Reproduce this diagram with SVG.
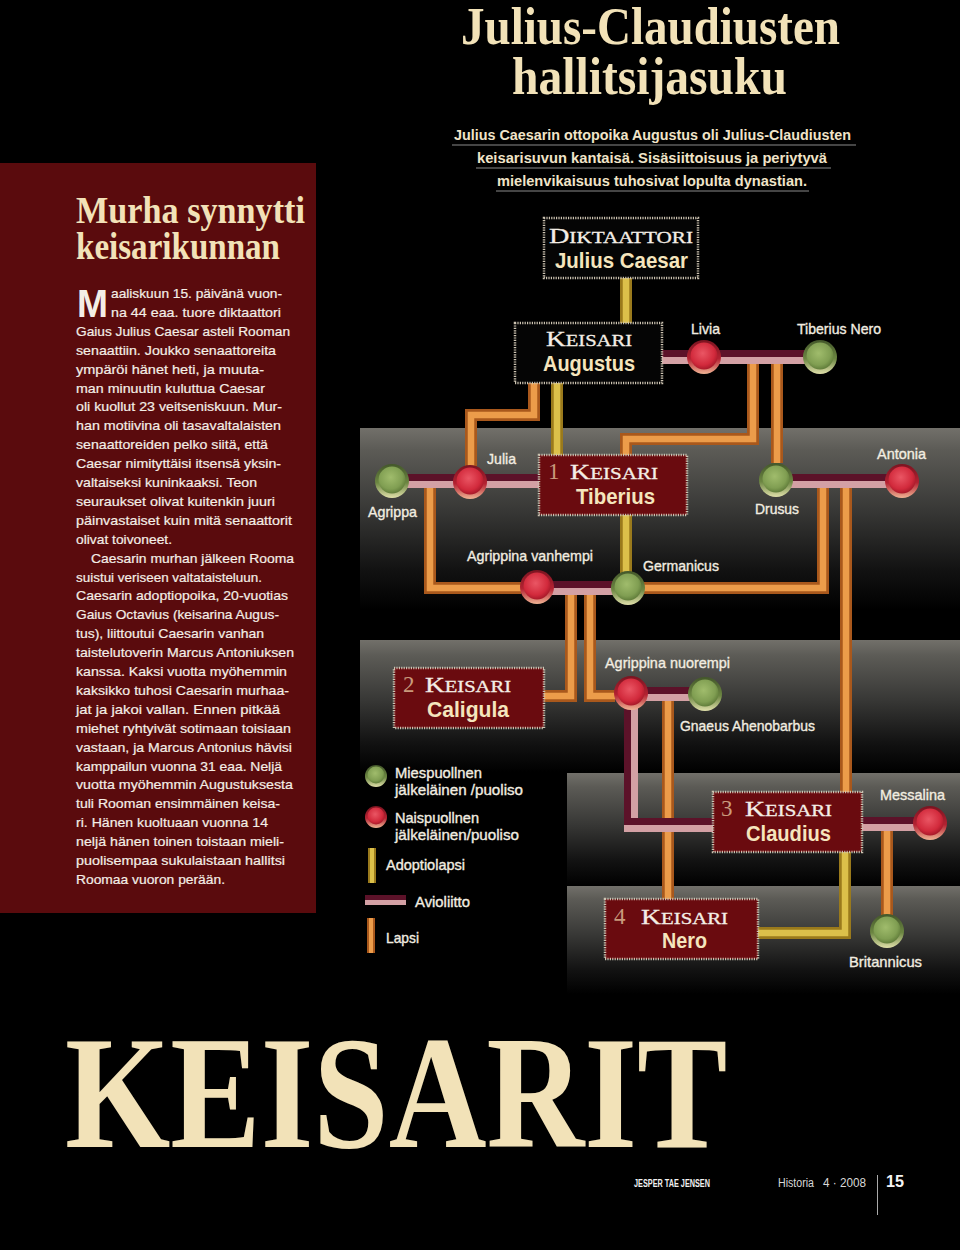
<svg xmlns="http://www.w3.org/2000/svg" width="960" height="1250" viewBox="0 0 960 1250">
<defs>
<linearGradient id="band" x1="0" y1="0" x2="0" y2="1">
<stop offset="0" stop-color="#72706a"/>
<stop offset="0.12" stop-color="#5c5b56"/>
<stop offset="0.45" stop-color="#383836"/>
<stop offset="0.78" stop-color="#121212"/>
<stop offset="1" stop-color="#000"/>
</linearGradient>
<linearGradient id="rimR" x1="0" y1="0" x2="0" y2="1">
<stop offset="0" stop-color="#7a1420"/>
<stop offset="0.55" stop-color="#b42232"/>
<stop offset="1" stop-color="#f0b494"/>
</linearGradient>
<radialGradient id="inR" cx="0.45" cy="0.4" r="0.62">
<stop offset="0" stop-color="#ea5664"/>
<stop offset="0.7" stop-color="#d22a3c"/>
<stop offset="1" stop-color="#a41828"/>
</radialGradient>
<linearGradient id="rimG" x1="0" y1="0" x2="0" y2="1">
<stop offset="0" stop-color="#43572a"/>
<stop offset="0.55" stop-color="#6c8642"/>
<stop offset="1" stop-color="#e0e0aa"/>
</linearGradient>
<radialGradient id="inG" cx="0.45" cy="0.4" r="0.62">
<stop offset="0" stop-color="#a0bc6c"/>
<stop offset="0.7" stop-color="#809e52"/>
<stop offset="1" stop-color="#5e7a38"/>
</radialGradient>
<style>
.bo{fill:none;stroke:#a9581c;stroke-width:12}
.bo2{fill:none;stroke:#ec9c4a;stroke-width:6.5}
.by{fill:none;stroke:#9a7a1c;stroke-width:12}
.by2{fill:none;stroke:#dcc04a;stroke-width:6.5}
.mp{fill:none;stroke:#d3a0a4;stroke-width:14}
.md{fill:none;stroke:#5c1229;stroke-width:7}
.lb{font-family:"Liberation Sans",Arial,sans-serif;font-size:15px;fill:#f2ede0;stroke:#f2ede0;stroke-width:0.35}
.bt{font-family:"Liberation Sans",Arial,sans-serif;font-size:13.6px;fill:#f4eee6;stroke:#f4eee6;stroke-width:0.2}
.nm{font-family:"Liberation Sans",Arial,sans-serif;font-weight:bold;font-size:22px;fill:#f5e5bd}
.kc{font-family:"Liberation Serif","Times New Roman",serif;fill:#f4eee6;stroke:#f4eee6;stroke-width:0.3}
.num{font-family:"Liberation Serif","Times New Roman",serif;font-size:23px;fill:#c99a7c}
.bx{stroke:#cdc4b2;stroke-width:2.5;stroke-dasharray:1.2 1.2}
.ttl{font-family:"Liberation Serif","Times New Roman",serif;font-weight:bold;fill:#f2e2b8}
.sub{font-family:"Liberation Sans",Arial,sans-serif;font-weight:bold;font-size:14.5px;fill:#f0e4c8}
.ul{stroke:#8a8a8a;stroke-width:1.2}
</style>
</defs>

<rect x="0" y="0" width="960" height="1250" fill="#000"/>

<!-- left article panel -->
<g id="article">
<rect x="0" y="163" width="316" height="750" fill="#5a0b0d"/>
<text class="ttl" x="76" y="223" font-size="38" textLength="229" lengthAdjust="spacingAndGlyphs">Murha synnytti</text>
<text class="ttl" x="76" y="259" font-size="38" textLength="204" lengthAdjust="spacingAndGlyphs">keisarikunnan</text>
<text x="77" y="317" font-family="Liberation Sans, Arial, sans-serif" font-weight="bold" font-size="39" fill="#f4eee6" textLength="31" lengthAdjust="spacingAndGlyphs">M</text>
<text class="bt" x="111" y="298" textLength="171" lengthAdjust="spacingAndGlyphs">aaliskuun 15. päivänä vuon-</text>
<text class="bt" x="111" y="316.9" textLength="170" lengthAdjust="spacingAndGlyphs">na 44 eaa. tuore diktaattori</text>
<text class="bt" x="76" y="335.8" textLength="214" lengthAdjust="spacingAndGlyphs">Gaius Julius Caesar asteli Rooman</text>
<text class="bt" x="76" y="354.7" textLength="200" lengthAdjust="spacingAndGlyphs">senaattiin. Joukko senaattoreita</text>
<text class="bt" x="76" y="373.6" textLength="188" lengthAdjust="spacingAndGlyphs">ympäröi hänet heti, ja muuta-</text>
<text class="bt" x="76" y="392.5" textLength="189" lengthAdjust="spacingAndGlyphs">man minuutin kuluttua Caesar</text>
<text class="bt" x="76" y="411.4" textLength="206" lengthAdjust="spacingAndGlyphs">oli kuollut 23 veitseniskuun. Mur-</text>
<text class="bt" x="76" y="430.3" textLength="205" lengthAdjust="spacingAndGlyphs">han motiivina oli tasavaltalaisten</text>
<text class="bt" x="76" y="449.2" textLength="192" lengthAdjust="spacingAndGlyphs">senaattoreiden pelko siitä, että</text>
<text class="bt" x="76" y="468.1" textLength="205" lengthAdjust="spacingAndGlyphs">Caesar nimityttäisi itsensä yksin-</text>
<text class="bt" x="76" y="487" textLength="181" lengthAdjust="spacingAndGlyphs">valtaiseksi kuninkaaksi. Teon</text>
<text class="bt" x="76" y="505.9" textLength="199" lengthAdjust="spacingAndGlyphs">seuraukset olivat kuitenkin juuri</text>
<text class="bt" x="76" y="524.8" textLength="216" lengthAdjust="spacingAndGlyphs">päinvastaiset kuin mitä senaattorit</text>
<text class="bt" x="76" y="543.7" textLength="96" lengthAdjust="spacingAndGlyphs">olivat toivoneet.</text>
<text class="bt" x="91" y="562.6" textLength="203" lengthAdjust="spacingAndGlyphs">Caesarin murhan jälkeen Rooma</text>
<text class="bt" x="76" y="581.5" textLength="186" lengthAdjust="spacingAndGlyphs">suistui veriseen valtataisteluun.</text>
<text class="bt" x="76" y="600.4" textLength="212" lengthAdjust="spacingAndGlyphs">Caesarin adoptiopoika, 20-vuotias</text>
<text class="bt" x="76" y="619.3" textLength="203" lengthAdjust="spacingAndGlyphs">Gaius Octavius (keisarina Augus-</text>
<text class="bt" x="76" y="638.2" textLength="188" lengthAdjust="spacingAndGlyphs">tus), liittoutui Caesarin vanhan</text>
<text class="bt" x="76" y="657.1" textLength="218" lengthAdjust="spacingAndGlyphs">taistelutoverin Marcus Antoniuksen</text>
<text class="bt" x="76" y="676" textLength="211" lengthAdjust="spacingAndGlyphs">kanssa. Kaksi vuotta myöhemmin</text>
<text class="bt" x="76" y="694.9" textLength="213" lengthAdjust="spacingAndGlyphs">kaksikko tuhosi Caesarin murhaa-</text>
<text class="bt" x="76" y="713.8" textLength="204" lengthAdjust="spacingAndGlyphs">jat ja jakoi vallan. Ennen pitkää</text>
<text class="bt" x="76" y="732.7" textLength="215" lengthAdjust="spacingAndGlyphs">miehet ryhtyivät sotimaan toisiaan</text>
<text class="bt" x="76" y="751.6" textLength="216" lengthAdjust="spacingAndGlyphs">vastaan, ja Marcus Antonius hävisi</text>
<text class="bt" x="76" y="770.5" textLength="206" lengthAdjust="spacingAndGlyphs">kamppailun vuonna 31 eaa. Neljä</text>
<text class="bt" x="76" y="789.4" textLength="217" lengthAdjust="spacingAndGlyphs">vuotta myöhemmin Augustuksesta</text>
<text class="bt" x="76" y="808.3" textLength="204" lengthAdjust="spacingAndGlyphs">tuli Rooman ensimmäinen keisa-</text>
<text class="bt" x="76" y="827.2" textLength="192" lengthAdjust="spacingAndGlyphs">ri. Hänen kuoltuaan vuonna 14</text>
<text class="bt" x="76" y="846.1" textLength="208" lengthAdjust="spacingAndGlyphs">neljä hänen toinen toistaan mieli-</text>
<text class="bt" x="76" y="865" textLength="209" lengthAdjust="spacingAndGlyphs">puolisempaa sukulaistaan hallitsi</text>
<text class="bt" x="76" y="883.9" textLength="149" lengthAdjust="spacingAndGlyphs">Roomaa vuoron perään.</text>
</g>

<!-- title -->
<g id="title">
<text class="ttl" x="461" y="44" font-size="52" textLength="379" lengthAdjust="spacingAndGlyphs">Julius-Claudiusten</text>
<text class="ttl" x="512" y="94" font-size="52" textLength="275" lengthAdjust="spacingAndGlyphs">hallitsijasuku</text>
<text class="sub" x="454" y="140" textLength="397" lengthAdjust="spacingAndGlyphs">Julius Caesarin ottopoika Augustus oli Julius-Claudiusten</text>
<line class="ul" x1="452" y1="145" x2="856" y2="145"/>
<text class="sub" x="477" y="163" textLength="350" lengthAdjust="spacingAndGlyphs">keisarisuvun kantaisä. Sisäsiittoisuus ja periytyvä</text>
<line class="ul" x1="476" y1="168" x2="831" y2="168"/>
<text class="sub" x="497" y="186" textLength="310" lengthAdjust="spacingAndGlyphs">mielenvikaisuus tuhosivat lopulta dynastian.</text>
<line class="ul" x1="496" y1="191" x2="809" y2="191"/>
</g>

<!-- background bands -->
<g id="bands">
<rect x="360" y="428" width="600" height="182" fill="url(#band)"/>
<rect x="360" y="640" width="600" height="132" fill="url(#band)"/>
<rect x="567" y="773" width="393" height="113" fill="url(#band)"/>
<rect x="567" y="886" width="393" height="108" fill="url(#band)"/>
</g>

<!-- connectors -->
<g id="connectors">
<!-- adoption (yellow) -->
<path class="by" d="M626 278V323"/><path class="by2" d="M626 278V323"/>
<path class="by" d="M557 383V455"/><path class="by2" d="M557 383V455"/>
<path class="by" d="M626 515V573"/><path class="by2" d="M626 515V573"/>
<path class="by" d="M845 852V933H758"/><path class="by2" d="M845 852V933H758"/>
<!-- children (orange) -->
<path class="bo" d="M534 383V415H471V466"/><path class="bo2" d="M534 383V415H471V466"/>
<path class="bo" d="M753 364V439H626V455"/><path class="bo2" d="M753 364V439H626V455"/>
<path class="bo" d="M777 364V463"/><path class="bo2" d="M777 364V463"/>
<path class="bo" d="M430 488V588H521"/><path class="bo2" d="M430 488V588H521"/>
<path class="bo" d="M823 488V588H644"/><path class="bo2" d="M823 488V588H644"/>
<path class="bo" d="M846 488V792"/><path class="bo2" d="M846 488V792"/>
<path class="bo" d="M571 595V696H544"/><path class="bo2" d="M571 595V696H544"/>
<path class="bo" d="M590 595V696H615"/><path class="bo2" d="M590 595V696H615"/>
<path class="bo" d="M668 701V899"/><path class="bo2" d="M668 701V899"/>
<path class="bo" d="M887 829V915"/><path class="bo2" d="M887 829V915"/>
<!-- marriages -->
<path class="mp" d="M662 357H820"/><path class="md" d="M662 353.5H820"/>
<path class="mp" d="M392 481H539"/><path class="md" d="M392 477.5H539"/>
<path class="mp" d="M776 481H902"/><path class="md" d="M776 477.5H902"/>
<path class="mp" d="M537 588H628"/><path class="md" d="M537 584.5H628"/>
<path class="mp" d="M632 694H705"/><path class="md" d="M632 690.5H705"/>
<path class="mp" d="M631 700V825H713"/><path class="md" d="M627.5 700V821.5H713"/>
<path class="mp" d="M862 824H930"/><path class="md" d="M862 820.5H930"/>
</g>

<!-- person nodes -->
<g id="livia"><circle cx="704" cy="357" r="17" fill="url(#rimR)"/><circle cx="704" cy="356" r="13.5" fill="url(#inR)"/><text class="lb" x="691" y="334" textLength="29" lengthAdjust="spacingAndGlyphs">Livia</text></g>
<g id="tiberius-nero"><circle cx="820" cy="357" r="17" fill="url(#rimG)"/><circle cx="820" cy="356" r="13.5" fill="url(#inG)"/><text class="lb" x="797" y="334" textLength="84" lengthAdjust="spacingAndGlyphs">Tiberius Nero</text></g>
<g id="agrippa"><circle cx="392" cy="481" r="17" fill="url(#rimG)"/><circle cx="392" cy="480" r="13.5" fill="url(#inG)"/><text class="lb" x="368" y="517" textLength="49" lengthAdjust="spacingAndGlyphs">Agrippa</text></g>
<g id="julia"><circle cx="470" cy="482" r="17" fill="url(#rimR)"/><circle cx="470" cy="481" r="13.5" fill="url(#inR)"/><text class="lb" x="487" y="464" textLength="29" lengthAdjust="spacingAndGlyphs">Julia</text></g>
<g id="drusus"><circle cx="776" cy="480" r="17" fill="url(#rimG)"/><circle cx="776" cy="479" r="13.5" fill="url(#inG)"/><text class="lb" x="755" y="514" textLength="44" lengthAdjust="spacingAndGlyphs">Drusus</text></g>
<g id="antonia"><circle cx="902" cy="481" r="17" fill="url(#rimR)"/><circle cx="902" cy="480" r="13.5" fill="url(#inR)"/><text class="lb" x="877" y="459" textLength="49" lengthAdjust="spacingAndGlyphs">Antonia</text></g>
<g id="agrippina-vanhempi"><circle cx="537" cy="587" r="17" fill="url(#rimR)"/><circle cx="537" cy="586" r="13.5" fill="url(#inR)"/><text class="lb" x="467" y="561" textLength="126" lengthAdjust="spacingAndGlyphs">Agrippina vanhempi</text></g>
<g id="germanicus"><circle cx="628" cy="588" r="17" fill="url(#rimG)"/><circle cx="628" cy="587" r="13.5" fill="url(#inG)"/><text class="lb" x="643" y="571" textLength="76" lengthAdjust="spacingAndGlyphs">Germanicus</text></g>
<g id="agrippina-nuorempi"><circle cx="631" cy="693" r="17" fill="url(#rimR)"/><circle cx="631" cy="692" r="13.5" fill="url(#inR)"/><text class="lb" x="605" y="668" textLength="125" lengthAdjust="spacingAndGlyphs">Agrippina nuorempi</text></g>
<g id="gnaeus-ahenobarbus"><circle cx="705" cy="694" r="17" fill="url(#rimG)"/><circle cx="705" cy="693" r="13.5" fill="url(#inG)"/><text class="lb" x="680" y="731" textLength="135" lengthAdjust="spacingAndGlyphs">Gnaeus Ahenobarbus</text></g>
<g id="messalina"><circle cx="930" cy="823" r="17" fill="url(#rimR)"/><circle cx="930" cy="822" r="13.5" fill="url(#inR)"/><text class="lb" x="880" y="800" textLength="65" lengthAdjust="spacingAndGlyphs">Messalina</text></g>
<g id="britannicus"><circle cx="887" cy="931" r="17" fill="url(#rimG)"/><circle cx="887" cy="930" r="13.5" fill="url(#inG)"/><text class="lb" x="849" y="967" textLength="73" lengthAdjust="spacingAndGlyphs">Britannicus</text></g>

<!-- ruler boxes -->
<g id="julius-caesar">
<rect class="bx" x="544" y="218" width="154" height="60" fill="#050505"/>
<text class="kc" x="549" y="243" textLength="144" lengthAdjust="spacingAndGlyphs"><tspan font-size="22">D</tspan><tspan font-size="16.5">IKTAATTORI</tspan></text>
<text class="nm" x="555" y="268" textLength="133" lengthAdjust="spacingAndGlyphs">Julius Caesar</text>
</g>
<g id="augustus">
<rect class="bx" x="515" y="323" width="147" height="60" fill="#050505"/>
<text class="kc" x="546" y="346" textLength="86" lengthAdjust="spacingAndGlyphs"><tspan font-size="22">K</tspan><tspan font-size="16.5">EISARI</tspan></text>
<text class="nm" x="543" y="371" textLength="92" lengthAdjust="spacingAndGlyphs">Augustus</text>
</g>
<g id="tiberius">
<rect class="bx" x="539" y="455" width="148" height="60" fill="#6a0b0f"/>
<text class="num" x="548" y="479">1</text>
<text class="kc" x="570" y="479" textLength="88" lengthAdjust="spacingAndGlyphs"><tspan font-size="22">K</tspan><tspan font-size="16.5">EISARI</tspan></text>
<text class="nm" x="576" y="504" textLength="79" lengthAdjust="spacingAndGlyphs">Tiberius</text>
</g>
<g id="caligula">
<rect class="bx" x="394" y="668" width="150" height="60" fill="#6a0b0f"/>
<text class="num" x="403" y="692">2</text>
<text class="kc" x="425" y="692" textLength="86" lengthAdjust="spacingAndGlyphs"><tspan font-size="22">K</tspan><tspan font-size="16.5">EISARI</tspan></text>
<text class="nm" x="427" y="717" textLength="82" lengthAdjust="spacingAndGlyphs">Caligula</text>
</g>
<g id="claudius">
<rect class="bx" x="713" y="792" width="149" height="60" fill="#6a0b0f"/>
<text class="num" x="721" y="816">3</text>
<text class="kc" x="745" y="816" textLength="87" lengthAdjust="spacingAndGlyphs"><tspan font-size="22">K</tspan><tspan font-size="16.5">EISARI</tspan></text>
<text class="nm" x="746" y="841" textLength="85" lengthAdjust="spacingAndGlyphs">Claudius</text>
</g>
<g id="nero">
<rect class="bx" x="605" y="899" width="153" height="60" fill="#6a0b0f"/>
<text class="num" x="614" y="924">4</text>
<text class="kc" x="641" y="924" textLength="87" lengthAdjust="spacingAndGlyphs"><tspan font-size="22">K</tspan><tspan font-size="16.5">EISARI</tspan></text>
<text class="nm" x="662" y="948" textLength="45" lengthAdjust="spacingAndGlyphs">Nero</text>
</g>

<!-- legend -->
<g id="legend">
<circle cx="376" cy="776" r="11" fill="url(#rimG)"/><circle cx="376" cy="775" r="8.5" fill="url(#inG)"/>
<text class="lb" x="395" y="778" textLength="87" lengthAdjust="spacingAndGlyphs">Miespuollnen</text>
<text class="lb" x="395" y="795" textLength="128" lengthAdjust="spacingAndGlyphs">jälkeläinen /puoliso</text>
<circle cx="376" cy="817" r="11" fill="url(#rimR)"/><circle cx="376" cy="816" r="8.5" fill="url(#inR)"/>
<text class="lb" x="395" y="823" textLength="84" lengthAdjust="spacingAndGlyphs">Naispuollnen</text>
<text class="lb" x="395" y="840" textLength="124" lengthAdjust="spacingAndGlyphs">jälkeläinen/puoliso</text>
<path d="M372 848V883" fill="none" stroke="#9a7a1c" stroke-width="8"/><path d="M372 848V883" fill="none" stroke="#dcc04a" stroke-width="4"/>
<text class="lb" x="386" y="870" textLength="79" lengthAdjust="spacingAndGlyphs">Adoptiolapsi</text>
<path d="M365 900H406" fill="none" stroke="#d3a0a4" stroke-width="10"/><path d="M365 897.5H406" fill="none" stroke="#5c1229" stroke-width="5"/>
<text class="lb" x="415" y="907" textLength="55" lengthAdjust="spacingAndGlyphs">Avioliitto</text>
<path d="M371 918V953" fill="none" stroke="#a9581c" stroke-width="8"/><path d="M371 918V953" fill="none" stroke="#ec9c4a" stroke-width="4"/>
<text class="lb" x="386" y="943" textLength="33" lengthAdjust="spacingAndGlyphs">Lapsi</text>
</g>

<!-- big heading and footer -->
<g id="footer">
<text class="ttl" transform="translate(65 1147) scale(0.836 1)" x="0" y="0" font-size="162" fill="#f3e5c0">KEISARIT</text>
<text x="634" y="1187" font-family="Liberation Sans, Arial, sans-serif" font-weight="bold" font-size="10" fill="#f0f0f0" textLength="76" lengthAdjust="spacingAndGlyphs">JESPER TAE JENSEN</text>
<text x="778" y="1187" font-family="Liberation Sans, Arial, sans-serif" font-size="12" fill="#d8d8d8" textLength="36" lengthAdjust="spacingAndGlyphs">Historia</text>
<text x="823" y="1187" font-family="Liberation Sans, Arial, sans-serif" font-size="12" fill="#d8d8d8" textLength="43" lengthAdjust="spacingAndGlyphs">4 · 2008</text>
<line x1="877.5" y1="1175" x2="877.5" y2="1215" stroke="#aaaaaa" stroke-width="1"/>
<text x="886" y="1187" font-family="Liberation Sans, Arial, sans-serif" font-weight="bold" font-size="17" fill="#f4f4f4" textLength="18" lengthAdjust="spacingAndGlyphs">15</text>
</g>
</svg>
